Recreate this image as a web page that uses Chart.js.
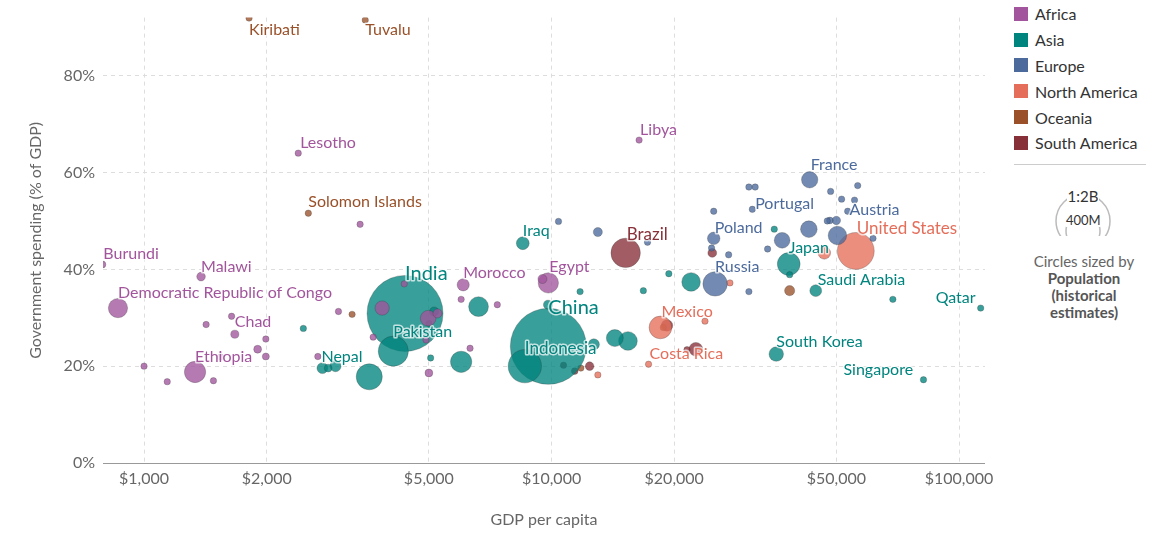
<!DOCTYPE html>
<html><head><meta charset="utf-8">
<script src="https://cdn.jsdelivr.net/npm/chart.js@4/dist/chart.umd.min.js"></script>
<style>
body{margin:0;background:#fff;font-family:Lato,sans-serif;}
#wrap{position:absolute;left:0;top:0;width:1000px;height:538px;}
#leg{position:absolute;left:1014px;top:1px;width:150px;font-size:16px;color:#333;}
.it{height:25.8px;display:flex;align-items:center;}
.sw{width:14px;height:14px;margin-right:7px;}
</style></head><body>
<div id="wrap"><canvas id="c" width="1000" height="538"></canvas></div>
<div id="leg"></div>
<script>
const continents=["Africa","Asia","Europe","North America","Oceania","South America"];
const colors=["#a2559c","#00847e","#4c6a9c","#e56e5a","#9a5129","#883039"];
const xTicks=[1000,2000,5000,10000,20000,50000,100000];
const yTicks=[0,20,40,60,80];
// [name, gdp per capita, spending %, population (millions)]
const africa=[["Burundi",790,41,12],["Malawi",1380,38.5,18],["Democratic Republic of Congo",863,32,90],["Chad",1670,26.6,16],["Ethiopia",1334,18.8,110],["Lesotho",2390,64,2],["Libya",16400,66.7,7],["Morocco",6070,36.8,36],["Egypt",9820,37.2,100],
["",1000,20,5],["",1140,16.8,8],["",1480,17,8],["",1540,21.9,6],["",1420,28.6,6],["",1640,30.3,10],["",1990,25.6,10],["",1990,22,12],["",1900,23.5,15],["",3390,49.3,3],["",3650,26,4],["",3840,32,50],["",5000,18.6,15],["",4980,29.9,60],["",5250,30.9,20],["",6000,33.8,5],["",7360,32.7,4],["",9500,38,20],["",2670,22,10],["",3000,31.3,5],["",4350,37,3],["",4920,25.4,3],["",6310,23.7,3]];
const asia=[["India",4370,30.9,1400],["China",9820,24.1,1400],["Indonesia",8600,20,270],["Pakistan",4090,23.1,220],["Iraq",8500,45.4,40],["Nepal",2740,19.6,29],["Japan",38200,41.1,126],["Saudi Arabia",44500,35.6,34],["South Korea",35600,22.5,51],["Singapore",81800,17.2,5.7],["Qatar",113000,32,2.8],
["",3570,17.8,165],["",6000,20.9,110],["",6620,32.3,95],["",14300,25.8,70],["",15400,25.2,85],["",22000,37.4,84],["",9800,32.7,20],["",11750,35.4,10],["",2460,27.8,5],["",2950,20,30],["",5150,31.3,20],["",5050,21.7,5],["",35200,48.3,5],["",38400,38.9,5],["",68800,33.8,5],["",19400,39.1,4],["",16800,35.6,6],["",2830,19.6,15],["",12700,24.5,30]];
const europe=[["France",43000,58.5,65],["Portugal",31600,57,10],["Austria",51500,54.5,9],["Poland",25000,46.4,38],["Russia",25200,37,145],["",50300,47,83],["",42800,48.3,67],["",36800,46,60],
["",30500,57,5],["",56400,57.3,6],["",48400,56.1,5],["",53300,52,10],["",55400,54.3,5],["",48200,50.1,11],["",50000,50.1,17],["",25000,52,4],["",31100,52.4,5],["",10400,49.9,3],["",12990,47.7,20],["",17200,45.6,5],["",24700,44.4,10],["",27200,43,10],["",33900,44.2,5],["",30500,35.4,3],["",61500,46.4,5],["",47500,50,4]];
const namerica=[["United States",55800,43.8,330],["Mexico",18500,28,125],["Costa Rica",17300,20.4,5],["",27400,37.2,3],["",23800,29.3,3],["",12990,18.2,5],["",46700,43.4,38]];
const oceania=[["Kiribati",1810,91.9,0.1],["Tuvalu",3490,91.5,0.01],["Solomon Islands",2530,51.6,0.6],["",3240,30.7,8],["",11800,19.6,1],["",18800,28,1],["",38400,35.6,25],["",5000,28.8,1]];
const samerica=[["Brazil",15200,43.4,210],["",24800,43.4,19],["",22600,23.5,45],["",10700,20.2,7],["",19200,28.4,32],["",11400,19,11],["",12400,20,18],["",21500,23.4,3]];
const groups=[africa,asia,europe,namerica,oceania,samerica];
// label offsets (style, not data)
const lab={"Kiribati":[0,12],"Tuvalu":[0,10],"Lesotho":[2,-10],"Libya":[1,-10],"Solomon Islands":[0,-11],"Burundi":[1,-11],"Malawi":[0,-10],"Democratic Republic of Congo":[0,-15],"Chad":[0,-12],"Ethiopia":[0,-15],"Iraq":[0,-12],"India":[0,-40,20],"Morocco":[0,-12],"Egypt":[1,-16],"China":[0,-39,20],"Pakistan":[0,-19],"Nepal":[-1,-11],"Indonesia":[0,-18,17],"Brazil":[1,-18,17],"Mexico":[1,-16],"Costa Rica":[1,-10],"Poland":[1,-11],"Russia":[0,-17],"France":[1,-15],"Portugal":[0,17],"Austria":[8,11],"United States":[1,-22,17],"Japan":[0,-16],"Saudi Arabia":[2,-11],"South Korea":[0,-12],"Singapore":[-80,-10],"Qatar":[-45,-10]};
function rad(p){return Math.max(3.2,38*Math.sqrt(p/1400));}
function rgba(h,a){const n=parseInt(h.slice(1),16);return `rgba(${n>>16},${(n>>8)&255},${n&255},${a})`;}
const datasets=groups.map((g,i)=>({label:continents[i],data:g.map(d=>({x:d[1],y:d[2],r:rad(d[3]),name:d[0]})).sort((a,b)=>b.r-a.r),
 backgroundColor:rgba(colors[i],0.78),borderColor:rgba("#333333",0.45),borderWidth:0.6}));
const labelPlugin={id:'lab',
 beforeDatasetsDraw(ch){const c=ch.ctx,a=ch.chartArea;c.save();c.strokeStyle='#999';c.lineWidth=1;c.beginPath();c.moveTo(a.left,a.bottom+0.5);c.lineTo(a.right,a.bottom+0.5);c.stroke();c.restore();},
 afterDatasetsDraw(ch){const c=ch.ctx;const xs=ch.scales.x,ys=ch.scales.y;
 ch.data.datasets.forEach((ds,i)=>ds.data.forEach(p=>{if(!p.name)return;const o=lab[p.name]||[0,-10];
 c.save();c.font=`${o[2]||16}px Lato`;c.textBaseline='middle';c.textAlign='left';
 const X=xs.getPixelForValue(p.x)+o[0],Y=ys.getPixelForValue(p.y)+o[1];
 c.strokeStyle='rgba(255,255,255,0.7)';c.lineWidth=3;c.lineJoin='round';c.strokeText(p.name,X,Y);
 c.fillStyle=colors[i];c.fillText(p.name,X,Y);c.restore();}));}};
new Chart(document.getElementById('c'),{type:'bubble',data:{datasets},plugins:[labelPlugin],
options:{responsive:false,animation:false,devicePixelRatio:1,layout:{autoPadding:false,padding:{top:15,right:15,left:22,bottom:5}},
plugins:{legend:{display:false},tooltip:{enabled:false}},
scales:{x:{type:'logarithmic',min:793,max:115800,afterBuildTicks(s){s.ticks=xTicks.map(v=>({value:v}));},
 afterFit(s){s.height=70;},
 ticks:{font:{family:'Lato',size:16},color:'#666',callback:v=>'$'+v.toLocaleString('en-US'),autoSkip:false,maxRotation:0,padding:6},
 grid:{color:'#ddd',drawTicks:false},border:{display:false,dash:[4,4]},
 title:{display:true,text:'GDP per capita',font:{family:'Lato',size:16},color:'#666',padding:{top:6}}},
 y:{min:0,max:92,afterBuildTicks(s){s.ticks=yTicks.map(v=>({value:v}));},
 afterFit(s){s.width=81;},
 ticks:{font:{family:'Lato',size:16},color:'#666',callback:v=>v+'%',padding:8},
 grid:{color:'#ddd',drawTicks:false},border:{display:false,dash:[4,4]},
 title:{display:true,text:'Government spending (% of GDP)',font:{family:'Lato',size:16},color:'#666'}}}}});
let h='';continents.forEach((c,i)=>{h+=`<div class="it"><div class="sw" style="background:${colors[i]}"></div>${c}</div>`;});
h+=`<div style="border-top:1px solid #ccc;margin:8px 0 0 0;width:132px"></div>
<div style="position:relative;width:132px;height:160px;text-align:center;color:#666;font-size:14px">
<svg width="132" height="70" style="position:absolute;left:0;top:1px"><circle cx="69" cy="55" r="27" fill="none" stroke="#bbb" stroke-width="1.5"/><circle cx="69" cy="65" r="17" fill="none" stroke="#bbb" stroke-width="1.5"/></svg>
<div style="position:absolute;top:23px;left:53px;width:32px;background:#fff;font-size:15px;color:#333;line-height:16px">1:2B</div>
<div style="position:absolute;top:48px;left:52px;width:34px;background:#fff;font-size:13px;color:#333;line-height:14px">400M</div>
<div style="position:absolute;top:88px;left:4px;width:132px;line-height:17px;font-size:15px">Circles sized by<br><b style="color:#555">Population<br>(historical<br>estimates)</b></div></div>`;
document.getElementById('leg').innerHTML=h;
</script></body></html>
